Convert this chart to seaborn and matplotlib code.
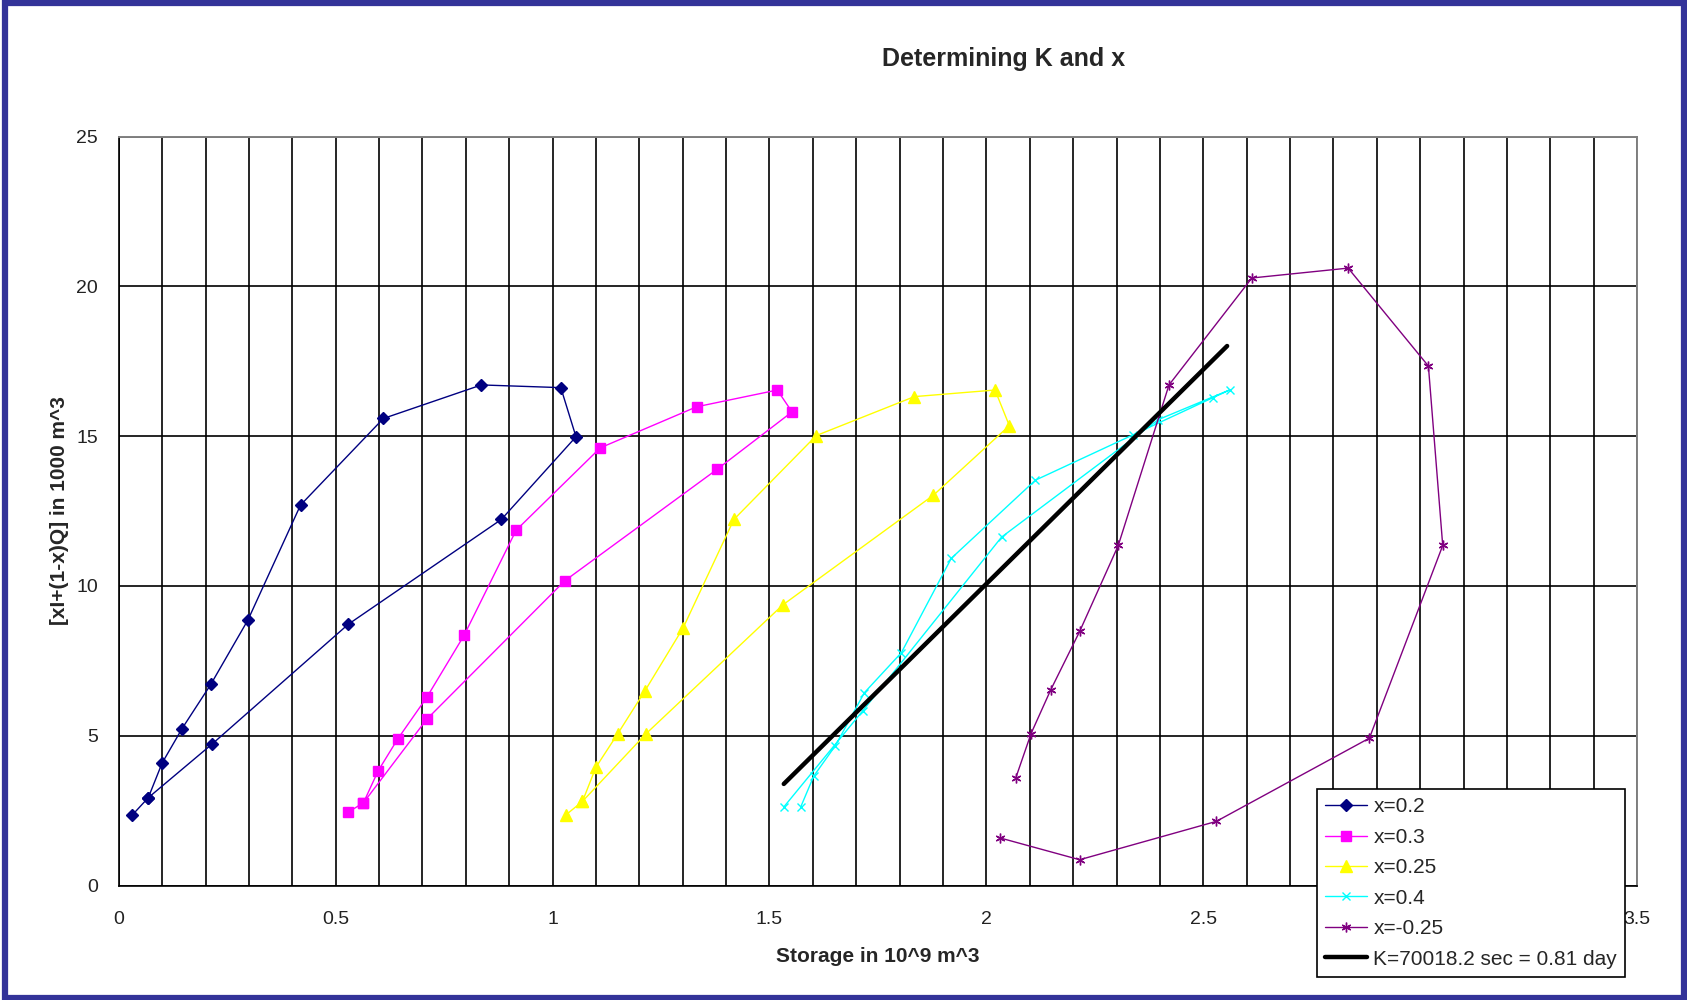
import numpy as np
import pandas as pd
import seaborn as sns
import matplotlib.pyplot as plt
from matplotlib.patches import Rectangle

# Storage (10^9 m^3) vs weighted flow [xI+(1-x)Q] (1000 m^3) for each trial x
storage_x02 = [0.031, 0.068, 0.100, 0.146, 0.212, 0.298, 0.419, 0.610, 0.836, 1.019, 1.054, 0.882, 0.529, 0.215, 0.068]
flow_x02 = [2.35, 2.93, 4.09, 5.24, 6.71, 8.87, 12.70, 15.59, 16.71, 16.62, 14.98, 12.22, 8.72, 4.72, 2.93]

storage_x03 = [0.528, 0.564, 0.598, 0.643, 0.710, 0.796, 0.916, 1.110, 1.332, 1.518, 1.552, 1.379, 1.028, 0.710, 0.564]
flow_x03 = [2.44, 2.76, 3.83, 4.89, 6.28, 8.35, 11.86, 14.61, 15.98, 16.54, 15.81, 13.89, 10.17, 5.55, 2.76]

storage_x025 = [1.031, 1.069, 1.100, 1.150, 1.213, 1.301, 1.418, 1.608, 1.834, 2.020, 2.053, 1.878, 1.531, 1.215, 1.069]
flow_x025 = [2.36, 2.81, 3.95, 5.06, 6.50, 8.60, 12.22, 15.02, 16.32, 16.54, 15.35, 13.03, 9.37, 5.06, 2.81]

storage_x04 = [1.572, 1.602, 1.652, 1.719, 1.804, 1.919, 2.113, 2.339, 2.523, 2.562, 2.396, 2.035, 1.715, 1.533]
flow_x04 = [2.62, 3.65, 4.67, 6.44, 7.77, 10.92, 13.53, 15.05, 16.29, 16.55, 15.55, 11.63, 5.83, 2.62]

storage_xm025 = [2.068, 2.103, 2.148, 2.215, 2.304, 2.421, 2.612, 2.834, 3.019, 3.052, 2.883, 2.530, 2.215, 2.031]
flow_xm025 = [3.60, 5.07, 6.52, 8.48, 11.35, 16.71, 20.28, 20.61, 17.34, 11.35, 4.92, 2.14, 0.86, 1.59]

# fitted line, K = 70018.2 s
fit_storage = [1.533, 2.555]
fit_flow = [3.39, 18.01]

series_labels = ['x=0.2', 'x=0.3', 'x=0.25', 'x=0.4', 'x=-0.25']
fit_label = 'K=70018.2 sec = 0.81 day'
x_ticks = [0, 0.5, 1, 1.5, 2, 2.5, 3, 3.5]
# the "3" label sits behind the legend in the original
x_tick_labels = ['0', '0.5', '1', '1.5', '2', '2.5', '', '3.5']
y_ticks = [0, 5, 10, 15, 20, 25]

sns.set_style('white')
plt.rcParams['font.family'] = ['Liberation Sans', 'DejaVu Sans']

fig = plt.figure(figsize=(16.87, 10), dpi=100)
ax = fig.add_axes([0.0704, 0.1145, 0.9, 0.7489])

series = [
    (storage_x02, flow_x02, '#000080', 'D', 6, 1.0),
    (storage_x03, flow_x03, '#FF00FF', 's', 7, 1.0),
    (storage_x025, flow_x025, '#FFFF00', '^', 8, 1.0),
    (storage_x04, flow_x04, '#00FFFF', 'x', 6, 1.0),
    (storage_xm025, flow_xm025, '#800080', (6, 2, 0), 7, 1.0),
]
for (xs, ys, col, mk, ms, mew), lab in zip(series, series_labels):
    df = pd.DataFrame({'Storage': xs, 'Flow': ys})
    sns.lineplot(data=df, x='Storage', y='Flow', sort=False, estimator=None, ax=ax,
                 color=col, marker=mk, markersize=ms, markeredgewidth=mew,
                 markeredgecolor=col, markerfacecolor=col, linewidth=1.0, label=lab)

df_fit = pd.DataFrame({'Storage': fit_storage, 'Flow': fit_flow})
sns.lineplot(data=df_fit, x='Storage', y='Flow', sort=False, estimator=None, ax=ax,
             color='black', linewidth=3.2, label=fit_label)

ax.set_xlim(0, 3.5)
ax.set_ylim(0, 25)
ax.set_xticks(x_ticks)
ax.set_xticklabels(x_tick_labels)
ax.set_xticks(np.arange(0.1, 3.45, 0.1), minor=True)
ax.set_yticks(y_ticks)
ax.set_axisbelow(True)
ax.grid(True, which='both', axis='x', color='black', linewidth=1.2)
ax.grid(True, which='major', axis='y', color='black', linewidth=1.2)
ax.tick_params(axis='both', which='major', direction='out', length=6, width=1,
               color='black', labelsize=14, labelcolor='#222222')
ax.tick_params(axis='x', which='major', pad=12)
ax.tick_params(axis='y', which='major', pad=9)
ax.tick_params(axis='x', which='minor', length=0)

for side in ['left', 'bottom']:
    ax.spines[side].set_color('black')
    ax.spines[side].set_linewidth(1.2)
for side in ['top', 'right']:
    ax.spines[side].set_color('#808080')
    ax.spines[side].set_linewidth(1.4)

ax.set_xlabel('Storage in 10^9 m^3', fontsize=15, fontweight='bold', labelpad=14)
ax.set_ylabel('[xI+(1-x)Q] in 1000 m^3', fontsize=15, fontweight='bold', labelpad=5)

fig.text(0.5946, 0.941, 'Determining K and x', fontsize=18, fontweight='bold',
         ha='center', va='center')

leg = ax.legend(loc='upper left', bbox_to_anchor=(0.7807, 0.211), bbox_transform=fig.transFigure,
                borderaxespad=0, fontsize=15, frameon=True, fancybox=False, framealpha=1,
                edgecolor='black', handlelength=2.0, handletextpad=0.3, labelspacing=0.55,
                borderpad=0.4)
leg.get_frame().set_linewidth(1.2)
leg.set_zorder(10)

fig.patches.append(Rectangle((0.003, 0.002), 0.995, 0.995, transform=fig.transFigure,
                             fill=False, edgecolor='#333399', linewidth=4.5))

plt.savefig('out.png', dpi=100)
